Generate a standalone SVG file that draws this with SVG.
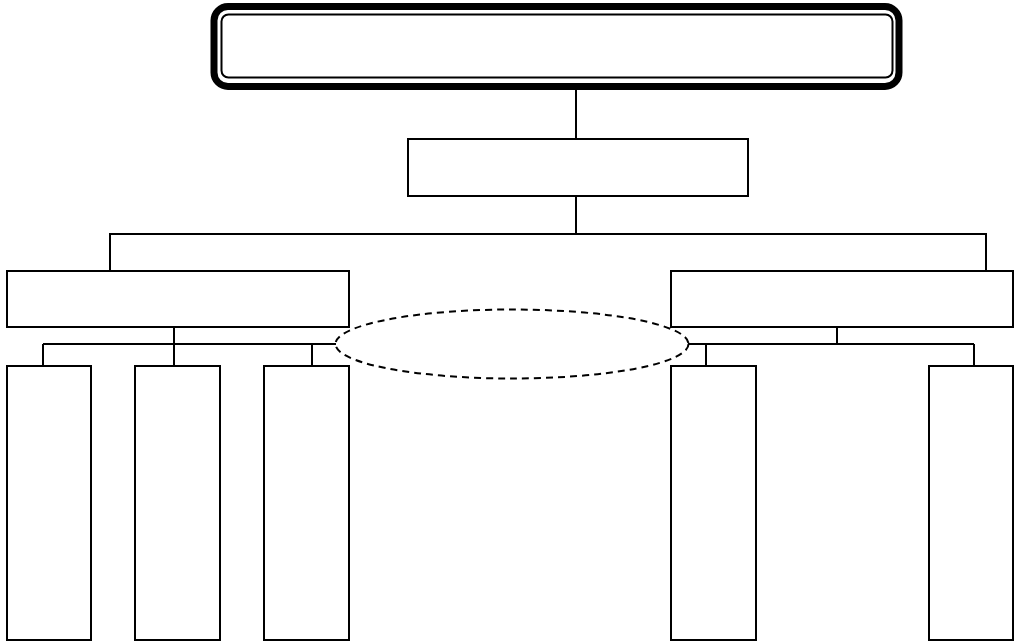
<svg xmlns="http://www.w3.org/2000/svg" width="1016" height="643" viewBox="0 0 1016 643">
  <style>
    .box { fill: #fff; stroke: #000; stroke-width: 2; }
    .ln { fill: none; stroke: #000; stroke-width: 2; }
    .dash { fill: none; stroke: #000; stroke-width: 2; stroke-dasharray: 7 5; }
  </style>
  <rect width="1016" height="643" fill="#fff"/>
  <g id="connectors">
    <line class="ln" x1="576" y1="88" x2="576" y2="139"/>
    <line class="ln" x1="576" y1="196" x2="576" y2="234"/>
    <polyline class="ln" points="110,271 110,234 986,234 986,271"/>
    <line class="ln" x1="174" y1="327" x2="174" y2="366"/>
    <line class="ln" x1="43" y1="344" x2="336" y2="344"/>
    <line class="ln" x1="43" y1="344" x2="43" y2="366"/>
    <line class="ln" x1="312" y1="344" x2="312" y2="366"/>
    <line class="ln" x1="837" y1="327" x2="837" y2="344"/>
    <line class="ln" x1="688" y1="344" x2="974" y2="344"/>
    <line class="ln" x1="706" y1="344" x2="706" y2="366"/>
    <line class="ln" x1="974" y1="344" x2="974" y2="366"/>
  </g>
  <g id="top">
    <rect x="214" y="6.5" width="685" height="80" rx="14" fill="#fff" stroke="#000" stroke-width="7"/>
    <rect x="221.5" y="14.5" width="671" height="63" rx="7" fill="none" stroke="#000" stroke-width="2"/>
  </g>
  <g id="level2"><rect class="box" x="408" y="139" width="340" height="57"/></g>
  <g id="left"><rect class="box" x="7" y="271" width="342" height="56"/></g>
  <g id="right"><rect class="box" x="671" y="271" width="342" height="56"/></g>
  <g id="oval"><ellipse class="dash" cx="512" cy="344" rx="176.5" ry="34.5"/></g>
  <g id="l1"><rect class="box" x="7" y="366" width="84" height="274"/></g>
  <g id="l2"><rect class="box" x="135" y="366" width="85" height="274"/></g>
  <g id="l3"><rect class="box" x="264" y="366" width="85" height="274"/></g>
  <g id="r1"><rect class="box" x="671" y="366" width="85" height="274"/></g>
  <g id="r2"><rect class="box" x="929" y="366" width="84" height="274"/></g>
</svg>
